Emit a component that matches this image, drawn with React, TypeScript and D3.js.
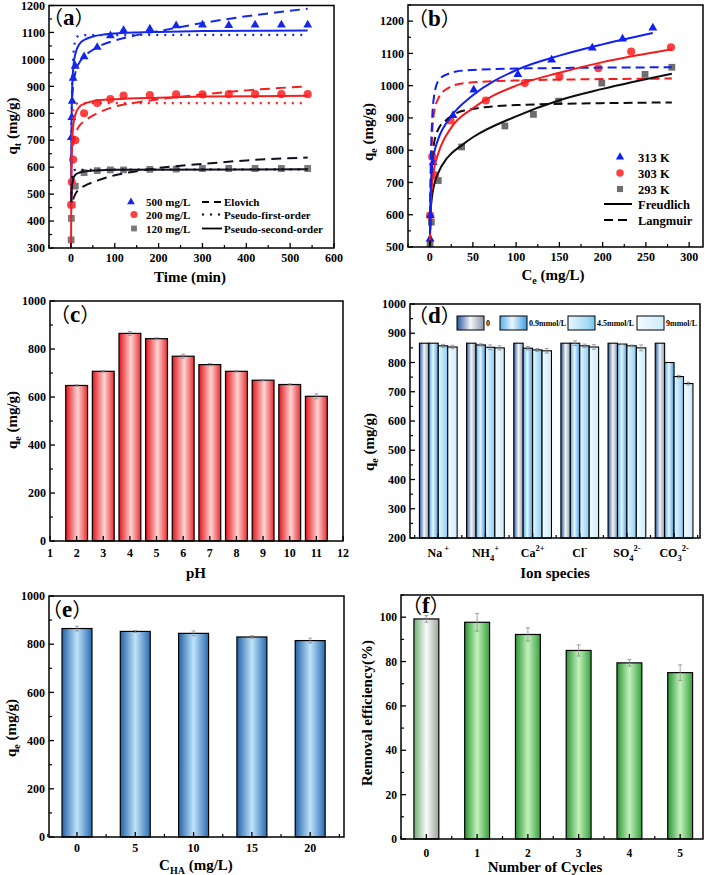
import React from 'react';
import * as d3 from 'd3';

const FONT = '"Liberation Serif","Times New Roman","Noto Sans CJK SC",serif';

// ---------- Panel (a) data ----------
const tBlue = [1, 2, 3, 5, 10, 30, 60, 90, 120, 180, 240, 300, 360, 420, 480, 540];
const q500 = [710, 785, 845, 930, 975, 1010, 1045, 1088, 1108, 1113, 1125, 1128, 1126, 1128, 1128, 1128];
const tRed = [0.5, 2, 5, 10, 30, 60, 90, 120, 180, 240, 300, 360, 420, 480, 540];
const q200 = [460, 545, 628, 700, 800, 838, 853, 866, 868, 870, 870, 871, 871, 871, 871];
const tBlack = [0.5, 1, 3, 10, 30, 60, 90, 120, 180, 240, 300, 360, 420, 480, 540];
const q120 = [330, 410, 460, 530, 580, 587, 590, 590, 592, 593, 595, 595, 595, 595, 595];

const psoBlue: [number, number][] = [[0.6, 455], [1, 700], [2, 830], [3, 900], [5, 960], [10, 1020], [20, 1058], [30, 1072], [50, 1085], [75, 1092], [100, 1096], [150, 1100], [200, 1102], [300, 1105], [540, 1107]];
const pfoBlue: [number, number][] = [[0.5, 520], [2, 850], [5, 1000], [10, 1070], [15, 1085], [25, 1090], [540, 1091]];
const eloBlue: [number, number][] = [[3, 860], [5, 900], [10, 950], [20, 990], [30, 1010], [60, 1045], [100, 1070], [150, 1090], [200, 1105], [300, 1135], [400, 1160], [540, 1188]];
const psoRed: [number, number][] = [[0.3, 300], [1, 560], [2, 650], [3, 700], [5, 750], [10, 795], [20, 825], [30, 835], [50, 845], [100, 852], [200, 858], [300, 862], [540, 865]];
const pfoRed: [number, number][] = [[1, 600], [3, 760], [5, 810], [10, 833], [20, 838], [540, 838]];
const eloRed: [number, number][] = [[5, 680], [10, 720], [20, 755], [30, 770], [60, 800], [100, 825], [150, 840], [200, 852], [300, 870], [400, 885], [540, 900]];
const psoBlack: [number, number][] = [[1, 470], [2, 520], [5, 555], [10, 572], [20, 580], [30, 584], [60, 588], [100, 590], [540, 592]];
const pfoBlack: [number, number][] = [[1, 500], [3, 570], [5, 585], [10, 590], [540, 592]];
const eloBlack: [number, number][] = [[5, 480], [10, 500], [20, 520], [30, 530], [60, 550], [100, 570], [150, 585], [200, 597], [300, 612], [400, 625], [540, 636]];

// ---------- Panel (b) data ----------
const ce313 = [0.5, 1, 4, 27, 51, 102, 141, 188, 223, 258];
const qe313 = [525, 598, 762, 908, 987, 1035, 1080, 1117, 1145, 1179];
const ce303 = [0.5, 3, 6, 24, 65, 110, 150, 195, 233, 279];
const qe303 = [598, 780, 722, 892, 954, 1008, 1028, 1054, 1106, 1119];
const ce293 = [0.5, 2, 10, 37, 87, 120, 149, 199, 249, 280];
const qe293 = [510, 577, 706, 810, 875, 911, 952, 1008, 1035, 1057];

const frBlue: [number, number][] = [[0.3, 540], [1, 650], [3, 760], [5, 790], [10, 835], [25, 905], [50, 970], [100, 1048], [150, 1093], [200, 1128], [258, 1163]];
const frRed: [number, number][] = [[0.3, 520], [1, 620], [3, 700], [5, 740], [10, 790], [25, 870], [50, 930], [100, 1000], [150, 1040], [200, 1073], [280, 1113]];
const frBlack: [number, number][] = [[0.3, 500], [1, 600], [3, 660], [5, 690], [10, 730], [20, 775], [37, 815], [50, 840], [100, 905], [150, 955], [200, 990], [280, 1037]];
const laBlue: [number, number][] = [[0.3, 510], [1, 700], [3, 900], [5, 965], [10, 1015], [20, 1035], [40, 1047], [100, 1053], [280, 1057]];
const laRed: [number, number][] = [[0.5, 510], [1, 650], [3, 850], [5, 915], [10, 960], [20, 990], [40, 1008], [100, 1016], [280, 1022]];
const laBlack: [number, number][] = [[0.5, 510], [1, 620], [3, 760], [5, 820], [10, 865], [20, 895], [40, 923], [100, 940], [280, 948]];

// ---------- Panel (c) data ----------
const pHs = [2, 3, 4, 5, 6, 7, 8, 9, 10, 11];
const qePH = [648, 707, 865, 843, 770, 735, 707, 670, 652, 603];
const errPH = [3, 3, 8, 4, 8, 5, 3, 3, 3, 10];

// ---------- Panel (d) data ----------
const ions = ['Na', 'NH4', 'Ca', 'Cl', 'SO4', 'CO3'];
const ionConc = ['0', '0.9mmol/L', '4.5mmol/L', '9mmol/L'];
const qeIon0 = [866, 866, 866, 866, 866, 866];
const qeIon09 = [866, 860, 849, 866, 863, 800];
const qeIon45 = [857, 852, 843, 857, 857, 752];
const qeIon9 = [853, 850, 840, 853, 850, 728];
const errIon09 = [0, 4, 6, 8, 2, 0];
const errIon45 = [5, 8, 5, 6, 3, 4];
const errIon9 = [6, 7, 8, 8, 10, 5];

// ---------- Panel (e) data ----------
const cHA = [0, 5, 10, 15, 20];
const qeHA = [865, 853, 845, 830, 815];
const errHA = [10, 4, 10, 5, 10];

// ---------- Panel (f) data ----------
const cycles = [0, 1, 2, 3, 4, 5];
const removal = [99.2, 97.7, 92.2, 85.0, 79.4, 75.0];
const errRem = [1.5, 4, 3, 2.5, 1.5, 3.5];

const range = (a: number, b: number, s: number) => d3.range(a, b + s / 2, s);

type FrameProps = {
  L: number; R: number; T: number; B: number;
  x: any; y: any;
  xMajor: number[]; xMinor: number[]; yMajor: number[]; yMinor: number[];
  xLabels?: boolean; fs: number; xDy: number; yFmt?: (v: number) => string;
};

function Frame(p: FrameProps) {
  const fmt = p.yFmt || ((v: number) => String(v));
  return (
    <g fontFamily={FONT} fontWeight="bold" fontSize={p.fs}>
      {p.yMajor.map((v) => (
        <g key={'ym' + v}>
          <line x1={p.L} x2={p.L + 5} y1={p.y(v)} y2={p.y(v)} stroke="#000" strokeWidth={1.3} />
          <text x={p.L - 4} y={p.y(v)} dy="0.35em" textAnchor="end">{fmt(v)}</text>
        </g>
      ))}
      {p.yMinor.map((v) => (
        <line key={'yn' + v} x1={p.L} x2={p.L + 3} y1={p.y(v)} y2={p.y(v)} stroke="#000" strokeWidth={1.2} />
      ))}
      {p.xMajor.map((v) => (
        <g key={'xm' + v}>
          <line x1={p.x(v)} x2={p.x(v)} y1={p.B} y2={p.B - 5} stroke="#000" strokeWidth={1.3} />
          {p.xLabels !== false && <text x={p.x(v)} y={p.B + p.xDy} textAnchor="middle">{String(v)}</text>}
        </g>
      ))}
      {p.xMinor.map((v) => (
        <line key={'xn' + v} x1={p.x(v)} x2={p.x(v)} y1={p.B} y2={p.B - 3} stroke="#000" strokeWidth={1.2} />
      ))}
      <rect x={p.L} y={p.T} width={p.R - p.L} height={p.B - p.T} fill="none" stroke="#000" strokeWidth={1.5} />
    </g>
  );
}

function PanelLabel({ x, y, letter }: { x: number; y: number; letter: string }) {
  return (
    <text x={x} y={y} fontFamily={FONT} fontWeight="bold" fontSize={23}>
      <tspan fontWeight="normal" fontFamily='"Noto Sans CJK SC"' fontSize={20}>（</tspan>
      {letter}
      <tspan fontWeight="normal" fontFamily='"Noto Sans CJK SC"' fontSize={20}>）</tspan>
    </text>
  );
}

function YTitle({ x, y, main, sub, rest }: { x: number; y: number; main: string; sub?: string; rest: string }) {
  return (
    <text transform={`translate(${x},${y}) rotate(-90)`} textAnchor="middle" fontFamily={FONT} fontWeight="bold" fontSize={15} dy="0.35em">
      {main}
      {sub && <tspan fontSize={10} dy={4}>{sub}</tspan>}
      <tspan dy={sub ? -4 : 0}>{rest}</tspan>
    </text>
  );
}

const sym = (type: any, size: number) => d3.symbol().type(type).size(size)() as string;

function PanelA() {
  const L = 49, R = 334, T = 5.5, B = 248;
  const x = d3.scaleLinear().domain([-50, 600]).range([L, R]);
  const y = d3.scaleLinear().domain([300, 1200]).range([B, T]);
  const line = d3.line<[number, number]>().x((d) => x(d[0])).y((d) => y(d[1])).curve(d3.curveMonotoneX);
  const blue = '#1428e8', red = '#f42020', blk = '#101020';
  const curves: { d: [number, number][]; c: string; dash?: string; w: number }[] = [
    { d: eloBlue, c: blue, dash: '10,6', w: 2 },
    { d: pfoBlue, c: blue, dash: '2,6', w: 2.2 },
    { d: psoBlue, c: blue, w: 2 },
    { d: eloRed, c: red, dash: '10,6', w: 2 },
    { d: pfoRed, c: red, dash: '2,6', w: 2.2 },
    { d: psoRed, c: red, w: 2 },
    { d: eloBlack, c: blk, dash: '10,6', w: 2 },
    { d: pfoBlack, c: blk, dash: '2,6', w: 2.2 },
    { d: psoBlack, c: blk, w: 2 },
  ];
  const tri = sym(d3.symbolTriangle, 34);
  const cir = sym(d3.symbolCircle, 52);
  const sq = sym(d3.symbolSquare, 46);
  return (
    <g>
      <clipPath id="clipA"><rect x={L} y={T} width={R - L} height={B - T} /></clipPath>
      <g clipPath="url(#clipA)">
        {tBlack.map((t, i) => <path key={'k' + i} d={sq} transform={`translate(${x(t)},${y(q120[i])})`} fill="#7a7a7a" />)}
        {tRed.map((t, i) => <path key={'r' + i} d={cir} transform={`translate(${x(t)},${y(q200[i])})`} fill="#ff4040" />)}
        {tBlue.map((t, i) => <path key={'b' + i} d={tri} transform={`translate(${x(t)},${y(q500[i])})`} fill={blue} />)}
        {curves.map((c, i) => (
          <path key={i} d={line(c.d) as string} fill="none" stroke={c.c} strokeWidth={c.w} strokeDasharray={c.dash} strokeLinecap="butt" />
        ))}
      </g>
      <Frame L={L} R={R} T={T} B={B} x={x} y={y} fs={12} xDy={14}
        xMajor={range(0, 600, 100)} xMinor={range(-50, 550, 100)}
        yMajor={range(300, 1200, 100)} yMinor={range(350, 1150, 100)} />
      <PanelLabel x={43} y={25} letter="a" />
      <YTitle x={12} y={126} main="q" sub="t" rest=" (mg/g)" />
      <text x={190} y={282} textAnchor="middle" fontFamily={FONT} fontWeight="bold" fontSize={15}>Time (min)</text>
      <g fontFamily={FONT} fontWeight="bold" fontSize={11}>
        <path d={sym(d3.symbolTriangle, 26)} transform="translate(131,202)" fill={blue} />
        <text x={146} y={205.5}>500 mg/L</text>
        <path d={sym(d3.symbolCircle, 40)} transform="translate(134,214.5)" fill="#ff4040" />
        <text x={146} y={218.5}>200 mg/L</text>
        <path d={sym(d3.symbolSquare, 34)} transform="translate(134,228.5)" fill="#7a7a7a" />
        <text x={146} y={232.5}>120 mg/L</text>
        <line x1={202} x2={222} y1={202} y2={202} stroke="#000" strokeWidth={1.8} strokeDasharray="7,5" />
        <text x={224} y={205.5}>Elovich</text>
        <line x1={202} x2={222} y1={214.5} y2={214.5} stroke="#000" strokeWidth={2} strokeDasharray="2,6" />
        <text x={224} y={218.5}>Pseudo-first-order</text>
        <line x1={202} x2={222} y1={228.5} y2={228.5} stroke="#000" strokeWidth={1.8} />
        <text x={224} y={232.5}>Pseudo-second-order</text>
      </g>
    </g>
  );
}

function PanelB() {
  const L = 408, R = 703, T = 5, B = 247;
  const x = d3.scaleLinear().domain([-25, 316]).range([L, R]);
  const y = d3.scaleLinear().domain([500, 1250]).range([B, T]);
  const line = d3.line<[number, number]>().x((d) => x(d[0])).y((d) => y(d[1])).curve(d3.curveMonotoneX);
  const blue = '#1020f0', red = '#f41c1c', blk = '#0c0c14';
  const curves = [
    { d: laBlack, c: blk, dash: '9,5' },
    { d: laRed, c: red, dash: '9,5' },
    { d: laBlue, c: blue, dash: '9,5' },
    { d: frBlack, c: blk },
    { d: frRed, c: red },
    { d: frBlue, c: blue },
  ];
  const tri = sym(d3.symbolTriangle, 34);
  const cir = sym(d3.symbolCircle, 52);
  const sq = sym(d3.symbolSquare, 46);
  return (
    <g>
      <clipPath id="clipB"><rect x={L} y={T} width={R - L} height={B - T} /></clipPath>
      <g clipPath="url(#clipB)">
        {ce293.map((c, i) => <path key={'k' + i} d={sq} transform={`translate(${x(c)},${y(qe293[i])})`} fill="#6e6e6e" />)}
        {ce303.map((c, i) => <path key={'r' + i} d={cir} transform={`translate(${x(c)},${y(qe303[i])})`} fill="#ff4040" />)}
        {ce313.map((c, i) => <path key={'b' + i} d={tri} transform={`translate(${x(c)},${y(qe313[i])})`} fill={blue} />)}
        {curves.map((c, i) => (
          <path key={i} d={line(c.d as [number, number][]) as string} fill="none" stroke={c.c} strokeWidth={2} strokeDasharray={c.dash} />
        ))}
      </g>
      <Frame L={L} R={R} T={T} B={B} x={x} y={y} fs={12} xDy={14}
        xMajor={range(0, 300, 50)} xMinor={range(-25, 300, 50)}
        yMajor={range(500, 1200, 100)} yMinor={range(550, 1250, 100)} />
      <PanelLabel x={408} y={26} letter="b" />
      <YTitle x={368} y={132} main="q" sub="e" rest=" (mg/g)" />
      <text x={553} y={280} textAnchor="middle" fontFamily={FONT} fontWeight="bold" fontSize={15}>
        C<tspan fontSize={10} dy={4}>e</tspan><tspan dy={-4}> (mg/L)</tspan>
      </text>
      <g fontFamily={FONT} fontWeight="bold" fontSize={12.5}>
        <path d={sym(d3.symbolTriangle, 30)} transform="translate(620,157)" fill={blue} />
        <text x={638} y={161.5}>313 K</text>
        <path d={sym(d3.symbolCircle, 44)} transform="translate(620,173)" fill="#ff4040" />
        <text x={638} y={177.5}>303 K</text>
        <path d={sym(d3.symbolSquare, 38)} transform="translate(620,189)" fill="#6e6e6e" />
        <text x={638} y={193.5}>293 K</text>
        <line x1={604} x2={632} y1={204} y2={204} stroke="#000" strokeWidth={2} />
        <text x={638} y={208.5}>Freudlich</text>
        <line x1={604} x2={632} y1={220} y2={220} stroke="#000" strokeWidth={2} strokeDasharray="9,5" />
        <text x={638} y={224.5}>Langmuir</text>
      </g>
    </g>
  );
}

function ErrBar({ cx, y0, y1, w = 4 }: { cx: number; y0: number; y1: number; w?: number }) {
  return (
    <g stroke="#8a8a8a" strokeWidth={0.8}>
      <line x1={cx} x2={cx} y1={y0} y2={y1} />
      <line x1={cx - w / 2} x2={cx + w / 2} y1={y0} y2={y0} />
      <line x1={cx - w / 2} x2={cx + w / 2} y1={y1} y2={y1} />
    </g>
  );
}

function PanelC() {
  const L = 50, R = 343, T = 301, B = 541;
  const x = d3.scaleLinear().domain([1, 12]).range([L, R]);
  const y = d3.scaleLinear().domain([0, 1000]).range([B, T]);
  const bw = x(1.82) - x(1);
  return (
    <g>
      <defs>
        <linearGradient id="gRed" x1="0" x2="1" y1="0" y2="0">
          <stop offset="0" stopColor="#e4141a" />
          <stop offset="0.55" stopColor="#fcd4d4" />
          <stop offset="1" stopColor="#ea2c30" />
        </linearGradient>
      </defs>
      {pHs.map((p, i) => (
        <g key={i}>
          <rect x={x(p) - bw / 2} y={y(qePH[i])} width={bw} height={y(0) - y(qePH[i])} fill="url(#gRed)" stroke="#000" strokeWidth={1.2} />
          <ErrBar cx={x(p)} y0={y(qePH[i] + errPH[i])} y1={y(qePH[i] - errPH[i])} />
        </g>
      ))}
      <Frame L={L} R={R} T={T} B={B} x={x} y={y} fs={12} xDy={16}
        xMajor={range(1, 12, 1)} xMinor={[]}
        yMajor={range(0, 1000, 200)} yMinor={range(100, 900, 200)} />
      <PanelLabel x={50} y={322} letter="c" />
      <YTitle x={12} y={420} main="q" sub="e" rest=" (mg/g)" />
      <text x={196} y={578} textAnchor="middle" fontFamily={FONT} fontWeight="bold" fontSize={15}>pH</text>
    </g>
  );
}

function IonLabel({ x, y, ion }: { x: number; y: number; ion: string }) {
  const s = 8.5;
  let content: React.ReactNode = null;
  if (ion === 'Na') content = <>Na<tspan fontSize={s} dy={-6}> +</tspan></>;
  if (ion === 'NH4') content = <>NH<tspan fontSize={s} dy={4}>4</tspan><tspan fontSize={s} dy={-10}>+</tspan></>;
  if (ion === 'Ca') content = <>Ca<tspan fontSize={s} dy={-6}>2+</tspan></>;
  if (ion === 'Cl') content = <>Cl<tspan fontSize={s} dy={-6}>-</tspan></>;
  if (ion === 'SO4') content = <>SO<tspan fontSize={s} dy={4}>4</tspan><tspan fontSize={s} dy={-10}>2-</tspan></>;
  if (ion === 'CO3') content = <>CO<tspan fontSize={s} dy={4}>3</tspan><tspan fontSize={s} dy={-10}>2-</tspan></>;
  return <text x={x} y={y} textAnchor="middle" fontFamily={FONT} fontWeight="bold" fontSize={12}>{content}</text>;
}

function PanelD() {
  const L = 410, R = 700, T = 304, B = 538;
  const x = d3.scaleLinear().domain([-0.6, 5.55]).range([L, R]);
  const y = d3.scaleLinear().domain([200, 1000]).range([B, T]);
  const bw = x(0.2) - x(0);
  const series = [qeIon0, qeIon09, qeIon45, qeIon9];
  const errs = [ions.map(() => 0), errIon09, errIon45, errIon9];
  const grads = ['gD0', 'gD1', 'gD2', 'gD3'];
  const lx = [457, 500, 568, 637];
  return (
    <g>
      <defs>
        <linearGradient id="gD0" x1="0" x2="1" y1="0" y2="0">
          <stop offset="0" stopColor="#26579a" />
          <stop offset="0.5" stopColor="#f4f6f8" />
          <stop offset="1" stopColor="#8696ab" />
        </linearGradient>
        <linearGradient id="gD1" x1="0" x2="1" y1="0" y2="0">
          <stop offset="0" stopColor="#56aeea" />
          <stop offset="0.45" stopColor="#eaf6fe" />
          <stop offset="1" stopColor="#3e9fe2" />
        </linearGradient>
        <linearGradient id="gD2" x1="0" x2="1" y1="0" y2="0">
          <stop offset="0" stopColor="#e8f6fe" />
          <stop offset="0.7" stopColor="#a8dcf6" />
          <stop offset="1" stopColor="#78c6f0" />
        </linearGradient>
        <linearGradient id="gD3" x1="0" x2="1" y1="0" y2="0">
          <stop offset="0" stopColor="#f4fbff" />
          <stop offset="1" stopColor="#cdebfb" />
        </linearGradient>
      </defs>
      {series.map((s, k) => (
        <g key={k}>
          {ions.map((_, i) => {
            const cx = x(i + (k - 1.5) * 0.2);
            return (
              <g key={i}>
                <rect x={cx - bw / 2} y={y(s[i])} width={bw} height={y(200) - y(s[i])} fill={`url(#${grads[k]})`} stroke="#000" strokeWidth={1.1} />
                {errs[k][i] > 0 && <ErrBar cx={cx} y0={y(s[i] + errs[k][i])} y1={y(s[i] - errs[k][i])} w={4} />}
              </g>
            );
          })}
        </g>
      ))}
      <Frame L={L} R={R} T={T} B={B} x={x} y={y} fs={12} xDy={16} xLabels={false}
        xMajor={d3.range(0, 6)} xMinor={d3.range(-0.5, 5.6, 1)}
        yMajor={range(200, 1000, 100)} yMinor={range(250, 950, 100)} />
      {ions.map((ion, i) => <IonLabel key={ion} x={x(i)} y={557} ion={ion} />)}
      <g fontFamily={FONT} fontWeight="bold" fontSize={8}>
        {ionConc.map((c, k) => (
          <g key={c}>
            <rect x={lx[k]} y={316} width={27} height={14} fill={`url(#${grads[k]})`} stroke="#000" strokeWidth={1} />
            <text x={lx[k] + 29} y={326}>{c}</text>
          </g>
        ))}
      </g>
      <PanelLabel x={408} y={323} letter="d" />
      <YTitle x={369} y={442} main="q" sub="e" rest=" (mg/g)" />
      <text x={555} y={578} textAnchor="middle" fontFamily={FONT} fontWeight="bold" fontSize={15}>Ion species</text>
    </g>
  );
}

function PanelE() {
  const L = 49, R = 344, T = 596, B = 837;
  const x = d3.scaleLinear().domain([-2.4, 22.9]).range([L, R]);
  const y = d3.scaleLinear().domain([0, 1000]).range([B, T]);
  const bw = x(2.57) - x(0);
  return (
    <g>
      <defs>
        <linearGradient id="gBlue" x1="0" x2="1" y1="0" y2="0">
          <stop offset="0" stopColor="#2462a8" />
          <stop offset="0.5" stopColor="#bfe4fa" />
          <stop offset="1" stopColor="#2a6ab2" />
        </linearGradient>
      </defs>
      {cHA.map((c, i) => (
        <g key={i}>
          <rect x={x(c) - bw / 2} y={y(qeHA[i])} width={bw} height={y(0) - y(qeHA[i])} fill="url(#gBlue)" stroke="#000" strokeWidth={1.2} />
          <ErrBar cx={x(c)} y0={y(qeHA[i] + errHA[i])} y1={y(qeHA[i] - errHA[i])} />
        </g>
      ))}
      <Frame L={L} R={R} T={T} B={B} x={x} y={y} fs={12} xDy={15}
        xMajor={range(0, 20, 5)} xMinor={range(-2.5, 22.5, 2.5).filter((v) => v % 5 !== 0)}
        yMajor={range(0, 1000, 200)} yMinor={range(100, 900, 200)} />
      <PanelLabel x={42} y={617} letter="e" />
      <YTitle x={11} y={728} main="q" sub="e" rest=" (mg/g)" />
      <text x={196} y={870} textAnchor="middle" fontFamily={FONT} fontWeight="bold" fontSize={15}>
        C<tspan fontSize={10} dy={4}>HA</tspan><tspan dy={-4}> (mg/L)</tspan>
      </text>
    </g>
  );
}

function PanelF() {
  const L = 401, R = 703, T = 595, B = 839;
  const x = d3.scaleLinear().domain([-0.5, 5.45]).range([L, R]);
  const y = d3.scaleLinear().domain([0, 110]).range([B, T]);
  const bw = x(0.49) - x(0);
  return (
    <g>
      <defs>
        <linearGradient id="gGreen" x1="0" x2="1" y1="0" y2="0">
          <stop offset="0" stopColor="#2a9434" />
          <stop offset="0.5" stopColor="#c4f2bc" />
          <stop offset="1" stopColor="#36a03e" />
        </linearGradient>
        <linearGradient id="gGrey" x1="0" x2="1" y1="0" y2="0">
          <stop offset="0" stopColor="#6fae72" />
          <stop offset="0.5" stopColor="#fafafa" />
          <stop offset="1" stopColor="#9aa49a" />
        </linearGradient>
      </defs>
      {cycles.map((c, i) => (
        <g key={i}>
          <rect x={x(c) - bw / 2} y={y(removal[i])} width={bw} height={y(0) - y(removal[i])} fill={i === 0 ? 'url(#gGrey)' : 'url(#gGreen)'} stroke="#000" strokeWidth={1.2} />
          <ErrBar cx={x(c)} y0={y(removal[i] + errRem[i])} y1={y(removal[i] - errRem[i])} />
        </g>
      ))}
      <Frame L={L} R={R} T={T} B={B} x={x} y={y} fs={11.5} xDy={18}
        xMajor={range(0, 5, 1)} xMinor={range(-0.5, 5, 1)}
        yMajor={range(0, 100, 20)} yMinor={range(10, 110, 20)} />
      <PanelLabel x={402} y={613} letter="f" />
      <YTitle x={367} y={713} main="Removal efficiency(%)" rest="" />
      <text x={545} y={872} textAnchor="middle" fontFamily={FONT} fontWeight="bold" fontSize={15}>Number of Cycles</text>
    </g>
  );
}

export default function App() {
  return (
    <svg width={709} height={875} viewBox="0 0 709 875" style={{ position: 'absolute', left: 0, top: 0, background: '#fff' }}>
      <rect width={709} height={875} fill="#fff" />
      <PanelA />
      <PanelB />
      <PanelC />
      <PanelD />
      <PanelE />
      <PanelF />
    </svg>
  );
}
